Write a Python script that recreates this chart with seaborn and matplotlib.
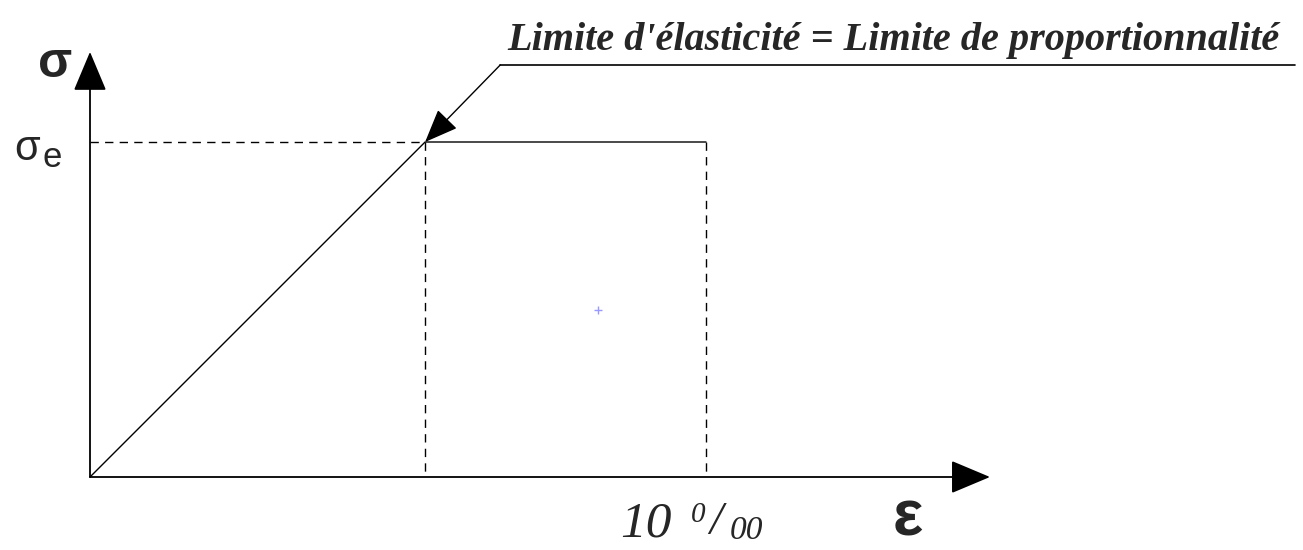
import numpy as np
import pandas as pd
import seaborn as sns
import matplotlib.pyplot as plt

# stress-strain diagram (schematic), strain in per mille, stress relative to sigma_e
strain = [0.0, 5.44, 10.0]
stress = [0.0, 1.0, 1.0]
eps_e = 5.44
sig_e = 1.0
eps_u = 10.0

x_axis_end = 14.61
y_axis_end = 1.269
note_knee = (6.66, 1.23)
note_end = 19.56
note_text = "Limite d'élasticité = Limite de proportionnalité"

sns.set_style('white')
fig = plt.figure(figsize=(13.03, 5.5), dpi=100)
ax = fig.add_axes([0, 0, 1, 1])
ax.set_xlim(-90 / 61.6, (1303 - 90) / 61.6)
ax.set_ylim((477 - 550) / 335, 477 / 335)
ax.axis('off')

df = pd.DataFrame({'eps': strain, 'sig': stress})
sns.lineplot(data=df, x='eps', y='sig', sort=False, color='black', lw=1.0, ax=ax)

dash = (0, (6, 4.5))
ax.plot([0, eps_e], [sig_e, sig_e], color='black', lw=1.0, ls=dash)
ax.plot([eps_e, eps_e], [sig_e, 0], color='black', lw=1.0, ls=dash)
ax.plot([eps_u, eps_u], [sig_e, 0], color='black', lw=1.0, ls=dash)

# axes with arrow heads
arrow = dict(arrowstyle='-|>,head_length=2.5,head_width=1.05', mutation_scale=10,
             color='black', lw=1.3, shrinkA=0, shrinkB=0)
ax.annotate('', xy=(x_axis_end, 0), xytext=(0, 0), arrowprops=arrow)
ax.annotate('', xy=(0, y_axis_end), xytext=(0, 0), arrowprops=arrow)

# annotation leader
ax.plot([note_end, note_knee[0]], [note_knee[1], note_knee[1]], color='black', lw=1.2)
ax.annotate('', xy=(eps_e, sig_e), xytext=note_knee,
            arrowprops=dict(arrowstyle='-|>,head_length=2.1,head_width=0.85', mutation_scale=10,
                            color='black', lw=1.0, shrinkA=0, shrinkB=0))
ax.text(13.05, 1.275, note_text, ha='center', va='baseline', family='Liberation Serif',
        style='italic', weight='bold', fontsize=29)

# labels
ax.text(-0.57, 1.194, 'σ', ha='center', va='baseline', family='Liberation Sans',
        weight='bold', fontsize=36)
ax.text(-1.02, 0.946, 'σ', ha='center', va='baseline', family='Liberation Sans', fontsize=30)
ax.text(-0.62, 0.925, 'e', ha='center', va='baseline', family='Liberation Sans', fontsize=25)
ax.text(13.28, -0.176, 'ε', ha='center', va='baseline', family='Liberation Sans',
        weight='bold', fontsize=46)
ax.text(9.03, -0.179, '10', ha='center', va='baseline', family='Liberation Serif',
        style='italic', fontsize=37)
ax.text(9.87, -0.135, '0', ha='center', va='baseline', family='Liberation Serif',
        style='italic', fontsize=21)
ax.text(10.16, -0.17, '/', ha='center', va='baseline', family='Liberation Serif',
        style='italic', fontsize=34)
ax.text(10.65, -0.185, '00', ha='center', va='baseline', family='Liberation Serif',
        style='italic', fontsize=24)

# small centre marker
ax.plot([8.25], [0.5], marker='+', ms=6, mew=1.0, color='#8080ff', alpha=0.8)

fig.savefig('out.png', dpi=100)
